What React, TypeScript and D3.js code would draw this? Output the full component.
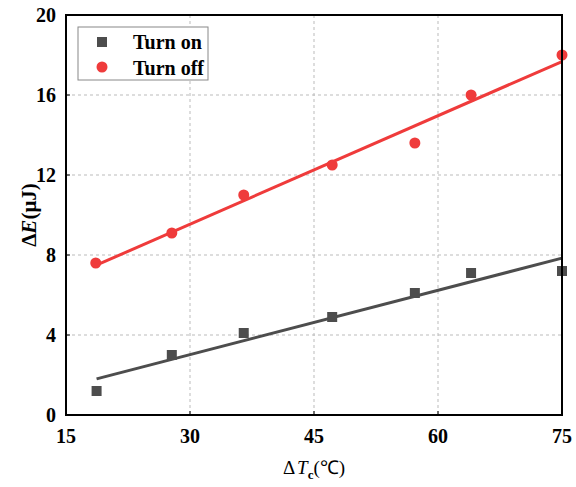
import React from "react";
import * as d3 from "d3";

const onX = [18.7, 27.8, 36.5, 47.2, 57.2, 64.0, 75.0];
const onY = [1.2, 3.0, 4.1, 4.9, 6.1, 7.1, 7.2];
const offX = [18.6, 27.8, 36.5, 47.2, 57.2, 64.0, 75.0];
const offY = [7.6, 9.1, 11.0, 12.5, 13.6, 16.0, 18.0];
const xTicks = [15, 30, 45, 60, 75];
const yTicks = [0, 4, 8, 12, 16, 20];
const seriesNames = ["Turn on", "Turn off"];

const W = 576, H = 487;
const L = 66, R = 562, T = 15, B = 415;
const onColor = "#4d4d4d";
const offColor = "#ef3b3b";
const font = "Liberation Serif, Times New Roman, serif";

function fit(xs: number[], ys: number[]) {
  const mx = d3.mean(xs)!, my = d3.mean(ys)!;
  let num = 0, den = 0;
  xs.forEach((x, i) => { num += (x - mx) * (ys[i] - my); den += (x - mx) ** 2; });
  const b = num / den;
  const a = my - b * mx;
  return (x: number) => a + b * x;
}

export default function App() {
  const x = d3.scaleLinear().domain([15, 75]).range([L, R]);
  const y = d3.scaleLinear().domain([0, 20]).range([B, T]);
  const fOn = fit(onX, onY);
  const fOff = fit(offX, offY);
  const line = d3.line<[number, number]>().x(d => x(d[0])).y(d => y(d[1]));
  const onExt = d3.extent(onX) as [number, number];
  const offExt = d3.extent(offX) as [number, number];
  return (
    <svg width={W} height={H} style={{ position: "absolute", left: 0, top: 0, fontFamily: font }}>
      <rect width={W} height={H} fill="#fff" />
      {xTicks.slice(1, -1).map(t => (
        <line key={"gx" + t} x1={x(t)} x2={x(t)} y1={T} y2={B} stroke="#bbb" strokeWidth={1} strokeDasharray="3,3" />
      ))}
      {yTicks.slice(1, -1).map(t => (
        <line key={"gy" + t} x1={L} x2={R} y1={y(t)} y2={y(t)} stroke="#bbb" strokeWidth={1} strokeDasharray="3,3" />
      ))}
      {xTicks.map(t => (
        <g key={"tx" + t}>
          <line x1={x(t)} x2={x(t)} y1={B} y2={B - 4} stroke="#000" strokeWidth={1} />
          <text x={x(t)} y={B + 28} textAnchor="middle" fontSize={20} fontWeight="bold" style={{ fontFamily: font }}>{t}</text>
        </g>
      ))}
      {yTicks.map(t => (
        <g key={"ty" + t}>
          <line x1={L} x2={L + 4} y1={y(t)} y2={y(t)} stroke="#000" strokeWidth={1} />
          <text x={L - 10} y={y(t) + 7} textAnchor="end" fontSize={20} fontWeight="bold" style={{ fontFamily: font }}>{t}</text>
        </g>
      ))}
      <path d={line([[onExt[0], fOn(onExt[0])], [onExt[1], fOn(onExt[1])]])!} stroke={onColor} strokeWidth={3} fill="none" />
      <path d={line([[offExt[0], fOff(offExt[0])], [offExt[1], fOff(offExt[1])]])!} stroke={offColor} strokeWidth={3} fill="none" />
      {onX.map((v, i) => (
        <rect key={"on" + i} x={x(v) - 5} y={y(onY[i]) - 5} width={10} height={10} fill={onColor} />
      ))}
      {offX.map((v, i) => (
        <circle key={"off" + i} cx={x(v)} cy={y(offY[i])} r={5.5} fill={offColor} />
      ))}
      <rect x={L} y={T} width={R - L} height={B - T} fill="none" stroke="#000" strokeWidth={2} />
      <g>
        <rect x={78} y={27} width={130} height={53} fill="#fff" stroke="#888" strokeWidth={1} />
        <rect x={97} y={37} width={10} height={10} fill={onColor} />
        <circle cx={102} cy={67} r={5.5} fill={offColor} />
        <text x={133} y={49} fontSize={20} fontWeight="bold" style={{ fontFamily: font }}>{seriesNames[0]}</text>
        <text x={133} y={75} fontSize={20} fontWeight="bold" style={{ fontFamily: font }}>{seriesNames[1]}</text>
      </g>
      <text x={314} y={474} textAnchor="middle" fontSize={19} style={{ fontFamily: font }}>
        <tspan>Δ</tspan><tspan fontStyle="italic" dx={2}>T</tspan><tspan fontSize={13} fontWeight="bold" dy={5}>c</tspan><tspan dy={-5}>(℃)</tspan>
      </text>
      <text transform={`translate(36,${(T + B) / 2}) rotate(-90)`} textAnchor="middle" fontSize={21} fontWeight="bold" style={{ fontFamily: font }}>
        <tspan>Δ</tspan><tspan fontStyle="italic">E</tspan><tspan>(μJ)</tspan>
      </text>
    </svg>
  );
}
